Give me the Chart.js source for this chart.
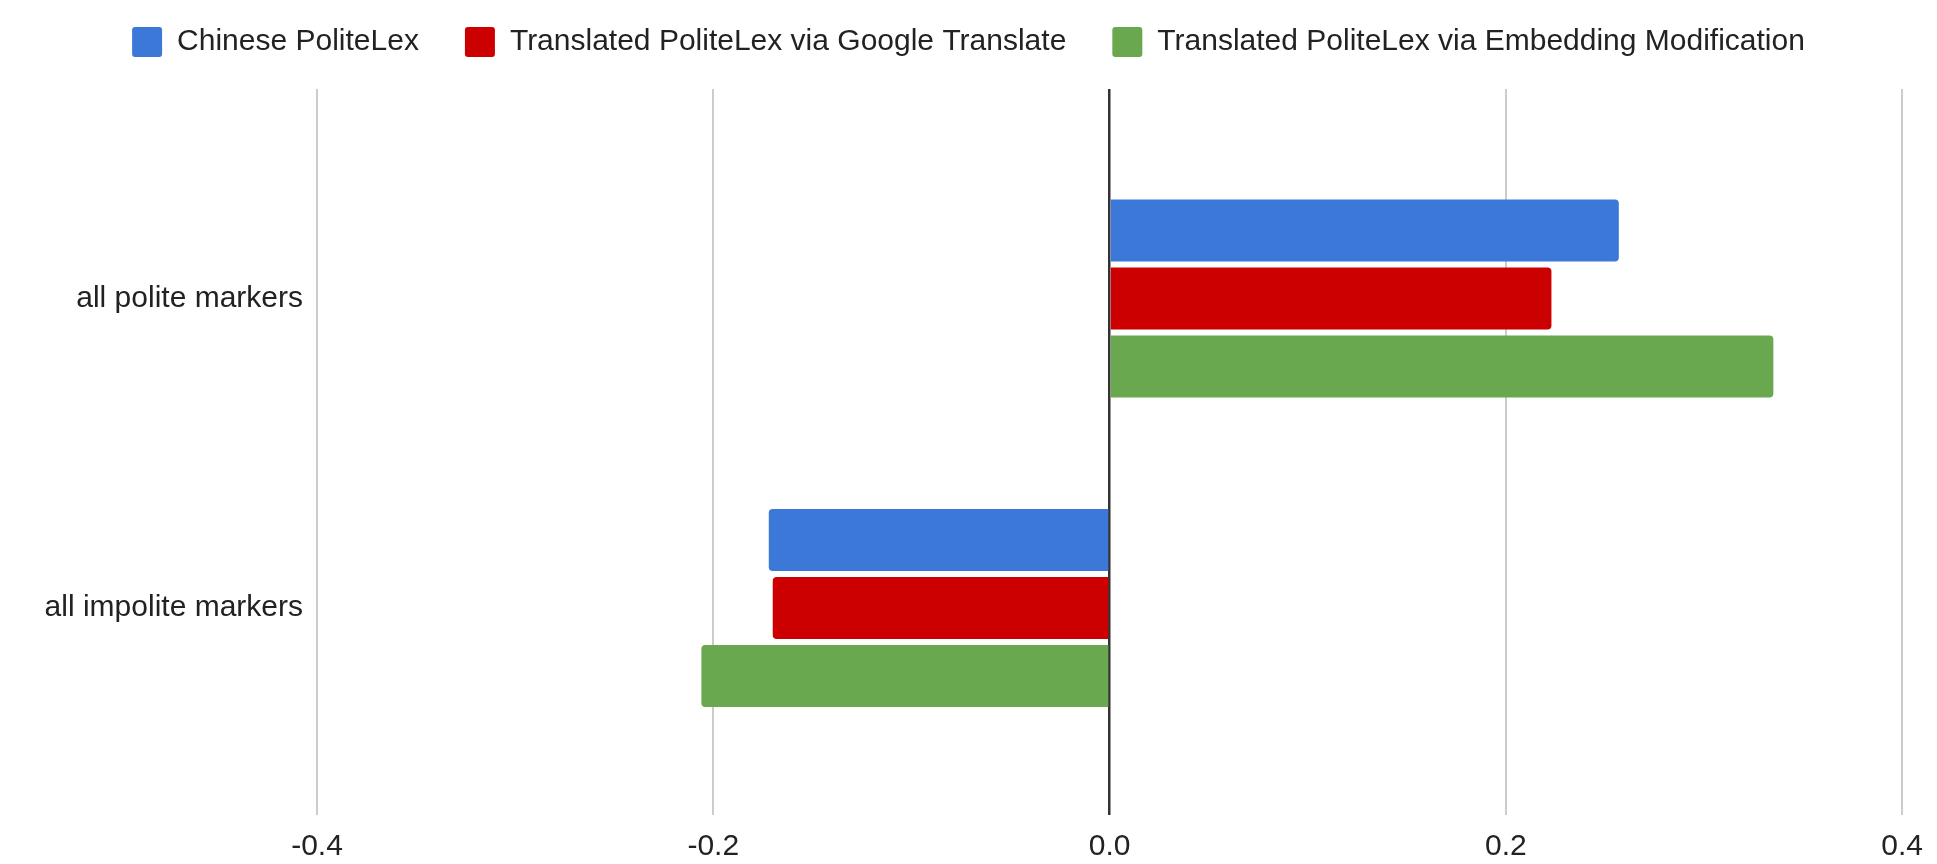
<!DOCTYPE html>
<html lang="en">
<head>
    <meta charset="UTF-8">
    <title>PoliteLex</title>
    <script src="https://cdn.jsdelivr.net/npm/chart.js@4/dist/chart.umd.min.js"></script>
    <style>
        html, body {
            margin: 0;
            padding: 0;
            background: #fff;
        }

        .chart-container {
            position: relative;
            width: 1937px;
            height: 864px;
        }
    </style>
</head>
<body>

    <div class="chart-container">
        <canvas id="chart"></canvas>
    </div>

<script>

// data
var categories = ['all polite markers', 'all impolite markers'];
var seriesNames = [
    'Chinese PoliteLex',
    'Translated PoliteLex via Google Translate',
    'Translated PoliteLex via Embedding Modification'
];
var chinese = [0.257, -0.172];
var googleTranslate = [0.223, -0.170];
var embedding = [0.335, -0.206];
var xTicks = [-0.4, -0.2, 0.0, 0.2, 0.4];

var colors = ['#3c78d8', '#cc0000', '#6aa84f'];
var font = "'Liberation Sans', Arial, sans-serif";

// push the plot area down below the legend
var legendGap = {
    id: 'legendGap',
    beforeInit(chart) {
        var fit = chart.legend.fit;
        chart.legend.fit = function () {
            fit.bind(chart.legend)();
            this.height += 22;
        };
    }
};

var ctx = document.getElementById('chart').getContext('2d');

var chart = new Chart(ctx, {
    type: 'bar',
    data: {
        labels: categories.map((c, i) => i),
        datasets: [
            { label: seriesNames[0], data: chinese, backgroundColor: colors[0] },
            { label: seriesNames[1], data: googleTranslate, backgroundColor: colors[1] },
            { label: seriesNames[2], data: embedding, backgroundColor: colors[2] },
        ]
    },
    options: {
        indexAxis: 'y',
        responsive: true,
        maintainAspectRatio: false,
        animation: false,
        layout: {
            padding: { top: -19, right: 33, bottom: 0, left: 33 }
        },
        datasets: {
            bar: {
                categoryPercentage: 0.659,
                barPercentage: 0.912,
                borderRadius: 4,
            }
        },
        scales: {
            x: {
                min: -0.4,
                max: 0.4,
                afterBuildTicks: (scale) => {
                    scale.ticks = xTicks.map((v) => ({ value: v }));
                },
                afterFit: (scale) => { scale.height = 49; },
                grid: {
                    drawTicks: false,
                    color: (c) => (c.tick && Math.abs(c.tick.value) < 1e-9) ? '#333333' : '#cccccc',
                    lineWidth: (c) => (c.tick && Math.abs(c.tick.value) < 1e-9) ? 2.5 : 2,
                },
                border: { display: false },
                ticks: {
                    padding: 14,
                    color: '#222',
                    font: { family: font, size: 30 },
                    callback: (v) => Number(v).toFixed(1),
                }
            },
            y: {
                type: 'linear',
                reverse: true,
                offset: false,
                min: -0.677,
                max: 1.669,
                afterBuildTicks: (scale) => {
                    scale.ticks = categories.map((c, i) => ({ value: i }));
                },
                afterFit: (scale) => { scale.width = 284; },
                grid: { display: false, drawTicks: false, offset: false },
                border: { display: false },
                ticks: {
                    padding: 14,
                    color: '#222',
                    font: { family: font, size: 30 },
                    callback: (v) => categories[v],
                }
            }
        },
        plugins: {
            legend: {
                position: 'top',
                labels: {
                    boxWidth: 30,
                    boxHeight: 30,
                    padding: 46,
                    useBorderRadius: true,
                    borderRadius: 3,
                    color: '#222',
                    font: { family: font, size: 30 },
                }
            },
            tooltip: { enabled: false }
        }
    },
    plugins: [legendGap]
});

</script>

</body>
</html>
